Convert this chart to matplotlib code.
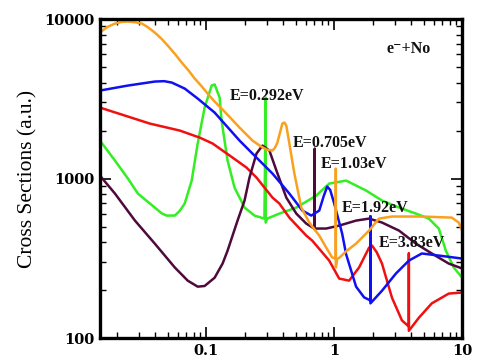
import matplotlib
matplotlib.use("Agg")
import matplotlib.pyplot as plt
from matplotlib.ticker import FixedLocator, LogLocator, NullFormatter

# ---- data (energy in eV, cross section in a.u.) ----
orange_x = [0.0148, 0.0168, 0.0194, 0.0218, 0.0245, 0.028, 0.0315, 0.035, 0.0397, 0.045,
            0.0501, 0.057, 0.0645, 0.073, 0.0814, 0.092, 0.1027, 0.116, 0.132, 0.155,
            0.1823, 0.2301, 0.265, 0.2956, 0.3296, 0.345, 0.3601, 0.378, 0.3939, 0.408,
            0.4227, 0.4467, 0.4887, 0.5539, 0.6389, 0.7646, 0.8665, 0.9647, 1.03, 1.03,
            1.03, 1.055, 1.094, 1.24, 1.483, 1.873, 2.239, 2.828, 4.839, 8.285, 9.394, 10.0]
orange_y = [8230, 8900, 9371, 9600, 9646, 9550, 9371, 8900, 8230, 7500,
            6823, 6050, 5337, 4750, 4236, 3800, 3411, 3050, 2748, 2400,
            2088, 1731, 1600, 1520, 1498, 1560, 1682, 1950, 2212, 2245,
            2149, 1658, 1075, 658, 530, 439, 369, 320, 315, 1150,
            277, 313, 318, 350, 391, 472, 561, 578, 578, 569, 530, 472]

blue_x = [0.0148, 0.0245, 0.0397, 0.047, 0.0539, 0.068, 0.0859, 0.1165, 0.1823, 0.2472,
          0.3296, 0.4467, 0.564, 0.6623, 0.7646, 0.83, 0.8822, 0.93, 1.0, 1.154,
          1.24, 1.483, 1.712, 1.92, 1.92, 1.92, 2.363, 3.038, 3.835, 4.839,
          6.564, 10.0]
blue_y = [3563, 3830, 4057, 4080, 3999, 3667, 3174, 2593, 1731, 1354,
          1075, 805, 630, 586, 630, 780, 890, 850, 700, 452,
          335, 210, 180, 172, 580, 165, 198, 254, 306, 339,
          329, 315]

red_x = [0.0148, 0.0363, 0.0622, 0.089, 0.1124, 0.1607, 0.2066, 0.2472, 0.3296, 0.3733,
         0.4467, 0.6053, 0.6743, 0.9143, 1.094, 1.308, 1.565, 1.873, 1.975, 2.15,
         2.363, 2.828, 3.382, 3.83, 3.83, 3.83, 4.586, 5.789, 7.852, 10.0]
red_y = [2787, 2212, 2000, 1807, 1658, 1354, 1172, 1015, 760, 697,
         569, 439, 408, 306, 236, 229, 277, 369, 380, 345,
         293, 179, 129, 118, 339, 111, 134, 165, 190, 193]

green_x = [0.0148, 0.0194, 0.0245, 0.0293, 0.0397, 0.045, 0.049, 0.0569, 0.062, 0.068,
           0.0771, 0.0859, 0.0973, 0.1104, 0.1165, 0.1274, 0.132, 0.147, 0.1667, 0.1995,
           0.2385, 0.2852, 0.292, 0.292, 0.30, 0.3733, 0.5062, 0.7244, 0.9143, 1.24,
           1.775, 2.363, 3.205, 4.347, 5.487, 6.564, 7.441, 8.588, 10.0]
green_y = [1731, 1297, 1000, 805, 658, 605, 586, 586, 625, 697,
           971, 1658, 2787, 3830, 3890, 3220, 2310, 1297, 878, 658,
           586, 561, 3220, 530, 561, 603, 658, 782, 930, 971,
           841, 728, 658, 603, 561, 486, 354, 277, 239]

purple_x = [0.0148, 0.0194, 0.0278, 0.0397, 0.0569, 0.0718, 0.0859, 0.0973, 0.1165, 0.1344,
            0.147, 0.1759, 0.1995, 0.2181, 0.2472, 0.2753, 0.3119, 0.354, 0.4227, 0.5062,
            0.6053, 0.6987, 0.705, 0.705, 0.72, 0.8665, 1.094, 1.483, 1.873, 2.363,
            3.205, 4.347, 5.789, 7.852, 10.0]
purple_y = [1044, 805, 545, 391, 277, 229, 210, 212, 239, 293,
            353, 545, 728, 1015, 1434, 1610, 1498, 1122, 760, 603,
            522, 486, 1542, 479, 486, 486, 507, 545, 561, 530,
            472, 391, 339, 293, 273]

series = [
    (green_x, green_y, "#33EE22"),
    (red_x, red_y, "#F01010"),
    (purple_x, purple_y, "#4E0A3C"),
    (blue_x, blue_y, "#1010F0"),
    (orange_x, orange_y, "#F9A11F"),
]

labels = ["E=0.292eV", "E=0.705eV", "E=1.03eV", "E=1.92eV", "E=3.83eV"]
label_x = [0.1524, 0.471, 0.792, 1.154, 2.239]
label_y = [3311, 1682, 1242, 658, 397]

x_ticks = [0.1, 1, 10]
x_ticklabels = ["0.1", "1", "10"]
y_ticks = [100, 1000, 10000]
y_ticklabels = ["100", "1000", "10000"]

# ---- figure ----
fig = plt.figure(figsize=(4.85, 3.6), dpi=100)
ax = fig.add_axes([0.206, 0.061, 0.747, 0.886])

for xs, ys, c in series:
    ax.plot(xs, ys, color=c, lw=1.8, solid_joinstyle="round", solid_capstyle="round")

ax.set_xscale("log")
ax.set_yscale("log")
ax.set_xlim(0.0148, 10)
ax.set_ylim(100, 10000)

ax.xaxis.set_major_locator(FixedLocator(x_ticks))
ax.yaxis.set_major_locator(FixedLocator(y_ticks))
ax.xaxis.set_minor_locator(LogLocator(base=10, subs=range(2, 10)))
ax.yaxis.set_minor_locator(LogLocator(base=10, subs=range(2, 10)))
ax.xaxis.set_minor_formatter(NullFormatter())
ax.yaxis.set_minor_formatter(NullFormatter())
ax.set_xticklabels(x_ticklabels)
ax.set_yticklabels(y_ticklabels)

for lab in ax.get_xticklabels() + ax.get_yticklabels():
    lab.set_fontfamily("DejaVu Serif")
    lab.set_fontweight("bold")
    lab.set_fontsize(10.5)

ax.tick_params(which="both", direction="in", top=True, right=True, colors="black")
ax.tick_params(which="major", length=8, width=1.2, pad=4)
ax.tick_params(which="minor", length=4.5, width=1.0)

for sp in ax.spines.values():
    sp.set_linewidth(2.4)

ax.set_ylabel("Cross Sections (a.u.)", family="Liberation Serif", fontsize=15.5, labelpad=5)

for t, lx, ly in zip(labels, label_x, label_y):
    ax.text(lx, ly, t, ha="left", va="center", family="Liberation Serif",
            weight="bold", fontsize=11.5, color="#111111")

ax.text(2.54, 6533, "e\u207B+No", ha="left", va="center",
        family=["Liberation Serif", "DejaVu Serif"], weight="bold", fontsize=11.5, color="#111111")

fig.savefig("out.png", dpi=100)
